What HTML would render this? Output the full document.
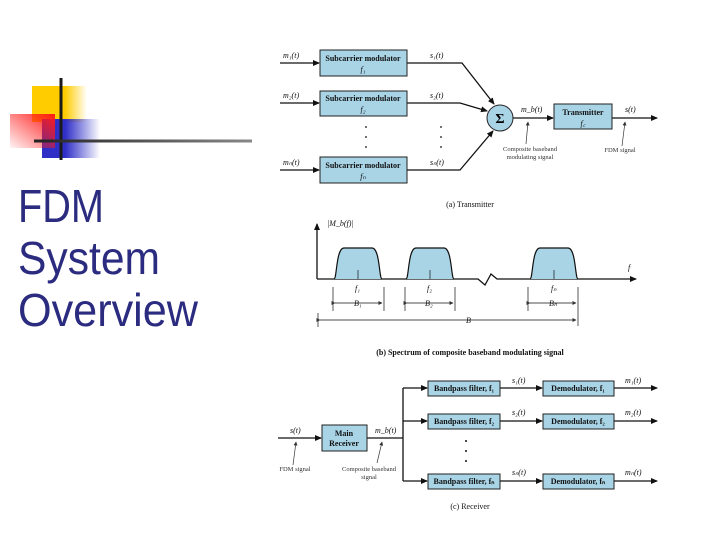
<!DOCTYPE html>
<html><head><meta charset="utf-8"><style>
html,body{margin:0;padding:0;background:#fff;}
svg{display:block;}
.t{font-family:"Liberation Serif",serif;font-size:8px;fill:#111;}
.b{font-family:"Liberation Serif",serif;font-size:8px;font-weight:bold;fill:#111;}
.s{font-family:"Liberation Serif",serif;font-size:6.5px;fill:#333;}
.ti{font-family:"Liberation Sans",sans-serif;font-size:46px;fill:#2b2b80;}
</style></head><body>
<svg width="720" height="540" viewBox="0 0 720 540" xmlns="http://www.w3.org/2000/svg">
<defs>
<linearGradient id="gy" x1="0" x2="1"><stop offset="0.6" stop-color="#ffcc00"/><stop offset="1" stop-color="#ffcc00" stop-opacity="0"/></linearGradient>
<linearGradient id="gb" x1="0" x2="1"><stop offset="0.4" stop-color="#2f2fc8"/><stop offset="1" stop-color="#2f2fc8" stop-opacity="0"/></linearGradient>
<linearGradient id="gr" x1="1" y1="0" x2="0" y2="1"><stop offset="0" stop-color="#ff1a1a"/><stop offset="1" stop-color="#ff1a1a" stop-opacity="0.05"/></linearGradient>
<linearGradient id="gl" x1="0" x2="1"><stop offset="0" stop-color="#222"/><stop offset="1" stop-color="#888"/></linearGradient>
<marker id="a" markerWidth="7" markerHeight="6" refX="6" refY="3" orient="auto" markerUnits="userSpaceOnUse"><path d="M0,0 L7,3 L0,6 Z" fill="#111"/></marker>
<marker id="sa" markerWidth="4" markerHeight="4" refX="3.5" refY="2" orient="auto" markerUnits="userSpaceOnUse"><path d="M0,0 L4,2 L0,4 Z" fill="#333"/></marker>
</defs>
<rect x="32" y="86" width="55" height="36" fill="url(#gy)"/>
<rect x="42" y="119" width="58" height="39" fill="url(#gb)"/>
<rect x="10" y="114" width="45" height="34" fill="url(#gr)"/>
<rect x="59.5" y="78" width="3" height="82" fill="#1a1a1a"/>
<rect x="34" y="139.5" width="218" height="3" fill="url(#gl)"/>
<text class="ti" x="18" y="222" textLength="86" lengthAdjust="spacingAndGlyphs">FDM</text>
<text class="ti" x="18" y="274" textLength="142" lengthAdjust="spacingAndGlyphs">System</text>
<text class="ti" x="18" y="326" textLength="180" lengthAdjust="spacingAndGlyphs">Overview</text>

<g stroke="#111" stroke-width="1.3" fill="none">
<line x1="280" y1="63" x2="319" y2="63" marker-end="url(#a)"/>
<line x1="280" y1="103" x2="319" y2="103" marker-end="url(#a)"/>
<line x1="280" y1="170" x2="319" y2="170" marker-end="url(#a)"/>
<polyline points="407,63 462,63 494,104" marker-end="url(#a)"/>
<polyline points="407,103 460,103 487,111" marker-end="url(#a)"/>
<polyline points="407,170 460,170 493,131" marker-end="url(#a)"/>
<line x1="513" y1="118" x2="553" y2="118" marker-end="url(#a)"/>
<line x1="612" y1="118" x2="657" y2="118" marker-end="url(#a)"/>
</g>
<g fill="#a8d4e6" stroke="#222" stroke-width="1">
<rect x="320" y="50" width="87" height="26"/>
<rect x="320" y="91" width="87" height="25"/>
<rect x="320" y="157" width="87" height="26"/>
<circle cx="500" cy="118" r="13"/>
<rect x="554" y="104" width="58" height="25"/>
</g>
<text class="b" x="363" y="61" text-anchor="middle">Subcarrier modulator</text>
<text class="t" x="363" y="72" text-anchor="middle" font-style="italic">f₁</text>
<text class="b" x="363" y="101" text-anchor="middle">Subcarrier modulator</text>
<text class="t" x="363" y="112" text-anchor="middle" font-style="italic">f₂</text>
<text class="b" x="363" y="168" text-anchor="middle">Subcarrier modulator</text>
<text class="t" x="363" y="179" text-anchor="middle" font-style="italic">fₙ</text>
<text x="500" y="123" text-anchor="middle" font-family="Liberation Serif,serif" font-size="14" font-weight="bold">Σ</text>
<text class="b" x="583" y="115" text-anchor="middle">Transmitter</text>
<text class="t" x="583" y="126" text-anchor="middle" font-style="italic">f꜀</text>
<g class="t" font-style="italic">
<text x="283" y="58">m₁(t)</text><text x="283" y="98">m₂(t)</text><text x="283" y="165">mₙ(t)</text>
<text x="430" y="58">s₁(t)</text><text x="430" y="98">s₂(t)</text><text x="430" y="165">sₙ(t)</text>
<text x="521" y="112">m_b(t)</text><text x="625" y="112">s(t)</text>
</g>
<g fill="#111"><circle cx="366" cy="127" r="0.9"/><circle cx="366" cy="137" r="0.9"/><circle cx="366" cy="147" r="0.9"/>
<circle cx="441" cy="127" r="0.9"/><circle cx="441" cy="137" r="0.9"/><circle cx="441" cy="147" r="0.9"/></g>
<line x1="526" y1="144" x2="528" y2="122" stroke="#333" stroke-width="0.7" marker-end="url(#sa)"/>
<line x1="622" y1="146" x2="625" y2="122" stroke="#333" stroke-width="0.7" marker-end="url(#sa)"/>
<text class="s" x="530" y="151" text-anchor="middle">Composite baseband</text>
<text class="s" x="530" y="159" text-anchor="middle">modulating signal</text>
<text class="s" x="620" y="152" text-anchor="middle">FDM signal</text>
<text class="t" x="470" y="207" text-anchor="middle">(a) Transmitter</text>

<g stroke="#111" stroke-width="1.3" fill="none">
<line x1="317" y1="279" x2="317" y2="224" marker-end="url(#a)"/>
<polyline points="317,279 478,279 485,285 491,274 497,279 636,279" marker-end="url(#a)"/>
</g>
<g fill="#a8d4e6" stroke="#111" stroke-width="1.2">
<path d="M334,279 C337,279 336,248 344,248 L372,248 C380,248 379,279 382,279"/>
<path d="M406,279 C409,279 408,248 416,248 L444,248 C452,248 451,279 454,279"/>
<path d="M530,279 C533,279 532,248 540,248 L568,248 C576,248 575,279 578,279"/>
</g>
<g stroke="#111" stroke-width="0.7">
<line x1="358" y1="270" x2="358" y2="279"/><line x1="430" y1="270" x2="430" y2="279"/><line x1="554" y1="270" x2="554" y2="279"/>
<line x1="333" y1="287" x2="333" y2="311"/><line x1="384" y1="287" x2="384" y2="311"/>
<line x1="405" y1="287" x2="405" y2="311"/><line x1="455" y1="287" x2="455" y2="311"/>
<line x1="528" y1="287" x2="528" y2="311"/><line x1="578" y1="287" x2="578" y2="326"/>
<line x1="318" y1="313" x2="318" y2="327"/>
<line x1="335" y1="303" x2="382" y2="303" marker-start="url(#sa)" marker-end="url(#sa)"/>
<line x1="407" y1="303" x2="453" y2="303" marker-start="url(#sa)" marker-end="url(#sa)"/>
<line x1="530" y1="303" x2="576" y2="303" marker-start="url(#sa)" marker-end="url(#sa)"/>
<line x1="320" y1="320" x2="576" y2="320" marker-start="url(#sa)" marker-end="url(#sa)"/>
</g>
<g class="t" font-style="italic">
<text x="327" y="226">|M_b(f)|</text>
<text x="628" y="270">f</text>
<text x="355" y="291">f₁</text><text x="427" y="291">f₂</text><text x="551" y="291">fₙ</text>
<text x="354" y="306">B₁</text><text x="425" y="306">B₂</text><text x="549" y="306">Bₙ</text>
<text x="466" y="323">B</text>
</g>
<text class="b" x="470" y="355" text-anchor="middle">(b) Spectrum of composite baseband modulating signal</text>

<g stroke="#111" stroke-width="1.3" fill="none">
<line x1="278" y1="438" x2="321" y2="438" marker-end="url(#a)"/>
<polyline points="367,438 403,438"/>
<line x1="403" y1="388" x2="403" y2="481"/>
<line x1="403" y1="388" x2="427" y2="388" marker-end="url(#a)"/>
<line x1="403" y1="421" x2="427" y2="421" marker-end="url(#a)"/>
<line x1="403" y1="481" x2="427" y2="481" marker-end="url(#a)"/>
<line x1="500" y1="388" x2="542" y2="388" marker-end="url(#a)"/>
<line x1="500" y1="421" x2="542" y2="421" marker-end="url(#a)"/>
<line x1="500" y1="481" x2="542" y2="481" marker-end="url(#a)"/>
<line x1="614" y1="388" x2="657" y2="388" marker-end="url(#a)"/>
<line x1="614" y1="421" x2="657" y2="421" marker-end="url(#a)"/>
<line x1="614" y1="481" x2="657" y2="481" marker-end="url(#a)"/>
</g>
<g fill="#a8d4e6" stroke="#222" stroke-width="1">
<rect x="322" y="425" width="45" height="26"/>
<rect x="428" y="381" width="72" height="15"/>
<rect x="428" y="414" width="72" height="15"/>
<rect x="428" y="474" width="72" height="15"/>
<rect x="543" y="381" width="71" height="15"/>
<rect x="543" y="414" width="71" height="15"/>
<rect x="543" y="474" width="71" height="15"/>
</g>
<text class="b" x="344" y="436" text-anchor="middle">Main</text>
<text class="b" x="344" y="446" text-anchor="middle">Receiver</text>
<g class="b">
<text x="464" y="391" text-anchor="middle">Bandpass filter, f₁</text>
<text x="464" y="424" text-anchor="middle">Bandpass filter, f₂</text>
<text x="464" y="484" text-anchor="middle">Bandpass filter, fₙ</text>
<text x="578" y="391" text-anchor="middle">Demodulator, f₁</text>
<text x="578" y="424" text-anchor="middle">Demodulator, f₂</text>
<text x="578" y="484" text-anchor="middle">Demodulator, fₙ</text>
</g>
<g class="t" font-style="italic">
<text x="290" y="433">s(t)</text><text x="375" y="433">m_b(t)</text>
<text x="512" y="383">s₁(t)</text><text x="512" y="415">s₂(t)</text><text x="512" y="475">sₙ(t)</text>
<text x="625" y="383">m₁(t)</text><text x="625" y="415">m₂(t)</text><text x="625" y="475">mₙ(t)</text>
</g>
<g fill="#111"><circle cx="466" cy="441" r="1"/><circle cx="466" cy="451" r="1"/><circle cx="466" cy="461" r="1"/></g>
<line x1="293" y1="465" x2="296" y2="442" stroke="#333" stroke-width="0.7" marker-end="url(#sa)"/>
<line x1="377" y1="463" x2="382" y2="442" stroke="#333" stroke-width="0.7" marker-end="url(#sa)"/>
<text class="s" x="295" y="471" text-anchor="middle">FDM signal</text>
<text class="s" x="369" y="471" text-anchor="middle">Composite baseband</text>
<text class="s" x="369" y="479" text-anchor="middle">signal</text>
<text class="t" x="470" y="509" text-anchor="middle">(c) Receiver</text>
</svg>
</body></html>
